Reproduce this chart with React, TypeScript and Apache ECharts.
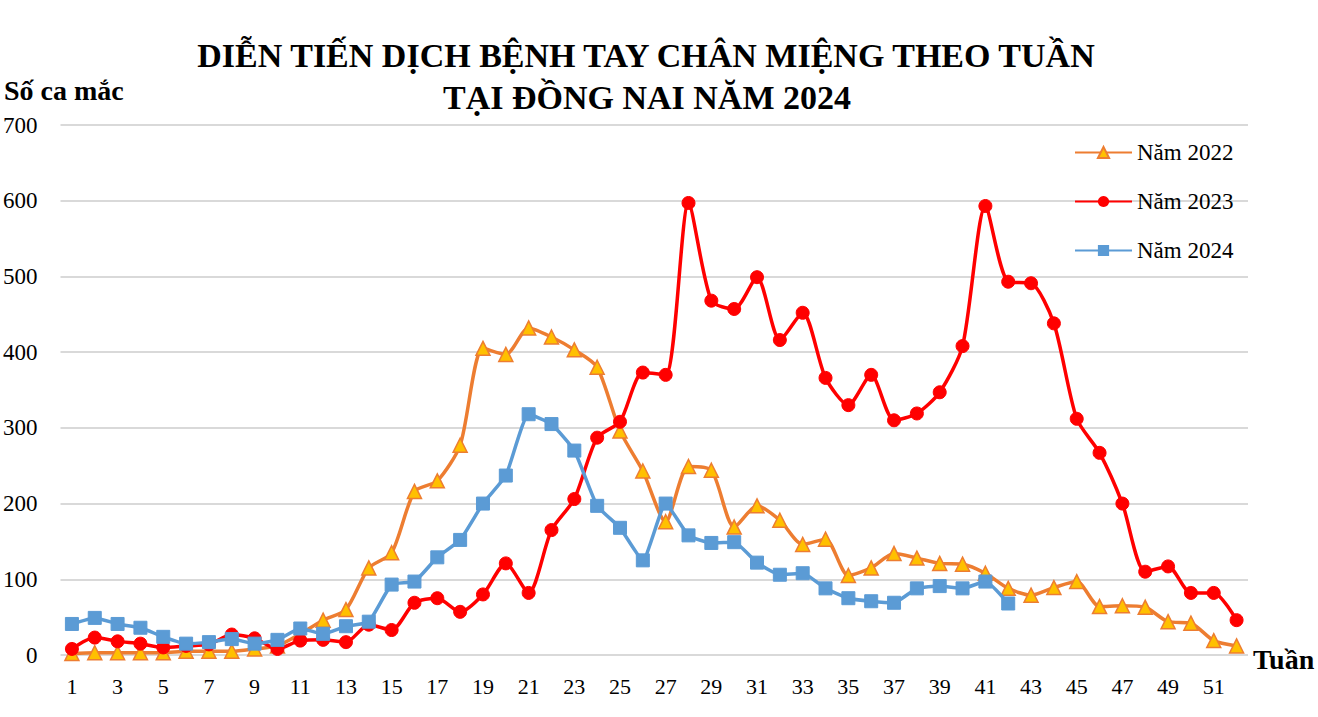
import React, { useEffect, useRef } from "react";
import * as echarts from "echarts";

const weeks = Array.from({ length: 52 }, (_, i) => String(i + 1));
const yearNames = ["Năm 2022", "Năm 2023", "Năm 2024"];
const y2022 = [2, 3, 3, 3, 3, 5, 5, 5, 8, 12, 28, 46, 60, 115, 135, 216, 230, 277, 405, 397, 432, 420, 403, 380, 296, 243, 176, 249, 244, 169, 197, 178, 146, 153, 105, 115, 134, 128, 121, 120, 108, 88, 79, 89, 97, 64, 65, 63, 44, 42, 19, 12];
const y2023 = [8, 23, 18, 15, 10, 12, 14, 27, 22, 8, 19, 20, 17, 40, 33, 69, 75, 57, 80, 121, 82, 165, 206, 287, 308, 373, 370, 597, 468, 457, 499, 416, 452, 366, 330, 370, 310, 319, 347, 408, 593, 493, 491, 438, 312, 267, 200, 110, 117, 82, 82, 46];
const y2024 = [41, 49, 41, 36, 24, 15, 17, 21, 15, 20, 35, 28, 38, 44, 93, 97, 129, 152, 200, 237, 318, 305, 270, 197, 168, 125, 200, 158, 148, 149, 122, 106, 108, 88, 75, 71, 69, 88, 91, 88, 97, 68];

const titleLines = ["DIỄN TIẾN DỊCH BỆNH TAY CHÂN MIỆNG THEO TUẦN", "TẠI ĐỒNG NAI NĂM 2024"];
const yAxisName = "Số ca mắc";
const xAxisName = "Tuần";

const SERIF = "'Liberation Serif', 'Times New Roman', serif";

export default function App() {
  const ref = useRef<HTMLDivElement>(null);
  useEffect(() => {
    if (!ref.current) return;
    const chart = echarts.init(ref.current, null, { renderer: "svg" });
    chart.setOption({
      animation: false,
      backgroundColor: "#ffffff",
      textStyle: { fontFamily: SERIF },
      grid: { left: 60, right: 70, top: 125, bottom: 62, containLabel: false },
      graphic: [
        {
          type: "text", x: 646, y: 55,
          style: { text: titleLines[0], fontFamily: SERIF, fontWeight: "bold", fontSize: 34, fill: "#000", align: "center", verticalAlign: "middle" },
        },
        {
          type: "text", x: 647, y: 97,
          style: { text: titleLines[1], fontFamily: SERIF, fontWeight: "bold", fontSize: 34, fill: "#000", align: "center", verticalAlign: "middle" },
        },
        {
          type: "text", x: 4, y: 90,
          style: { text: yAxisName, fontFamily: SERIF, fontWeight: "bold", fontSize: 28, fill: "#000", align: "left", verticalAlign: "middle" },
        },
        {
          type: "text", x: 1253, y: 659,
          style: { text: xAxisName, fontFamily: SERIF, fontWeight: "bold", fontSize: 28, fill: "#000", align: "left", verticalAlign: "middle" },
        },
      ],
      legend: {
        orient: "vertical",
        left: 1069,
        top: 136,
        itemGap: 26,
        itemWidth: 57,
        itemHeight: 14,
        data: yearNames,
        textStyle: { fontFamily: SERIF, fontSize: 23, color: "#000" },
      },
      xAxis: {
        type: "category",
        data: weeks,
        boundaryGap: true,
        axisLine: { show: false },
        axisTick: { show: false },
        axisLabel: { interval: 1, color: "#000", fontSize: 22, fontFamily: SERIF, margin: 20 },
      },
      yAxis: {
        type: "value",
        min: 0,
        max: 700,
        interval: 100,
        axisLine: { show: false },
        axisTick: { show: false },
        axisLabel: { color: "#000", fontSize: 23, fontFamily: SERIF, margin: 23 },
        splitLine: { lineStyle: { color: "#D9D9D9", width: 2 } },
      },
      series: [
        {
          name: yearNames[0], type: "line", data: y2022, smooth: 0.25,
          symbol: "triangle", symbolSize: 14,
          lineStyle: { color: "#ED7D31", width: 3.5 },
          itemStyle: { color: "#FFC000", borderColor: "#ED7D31", borderWidth: 1.5 },
          z: 2,
        },
        {
          name: yearNames[1], type: "line", data: y2023, smooth: 0.25,
          symbol: "circle", symbolSize: 13,
          lineStyle: { color: "#FF0000", width: 3.5 },
          itemStyle: { color: "#FF0000", borderColor: "#FF0000" },
          z: 3,
        },
        {
          name: yearNames[2], type: "line", data: y2024, smooth: 0.15,
          symbol: "rect", symbolSize: 13,
          lineStyle: { color: "#5B9BD5", width: 3.5 },
          itemStyle: { color: "#5B9BD5", borderColor: "#5B9BD5" },
          z: 4,
        },
      ],
    });
    return () => chart.dispose();
  }, []);
  return <div ref={ref} style={{ position: "fixed", left: 0, top: 0, width: 1318, height: 717 }} />;
}
